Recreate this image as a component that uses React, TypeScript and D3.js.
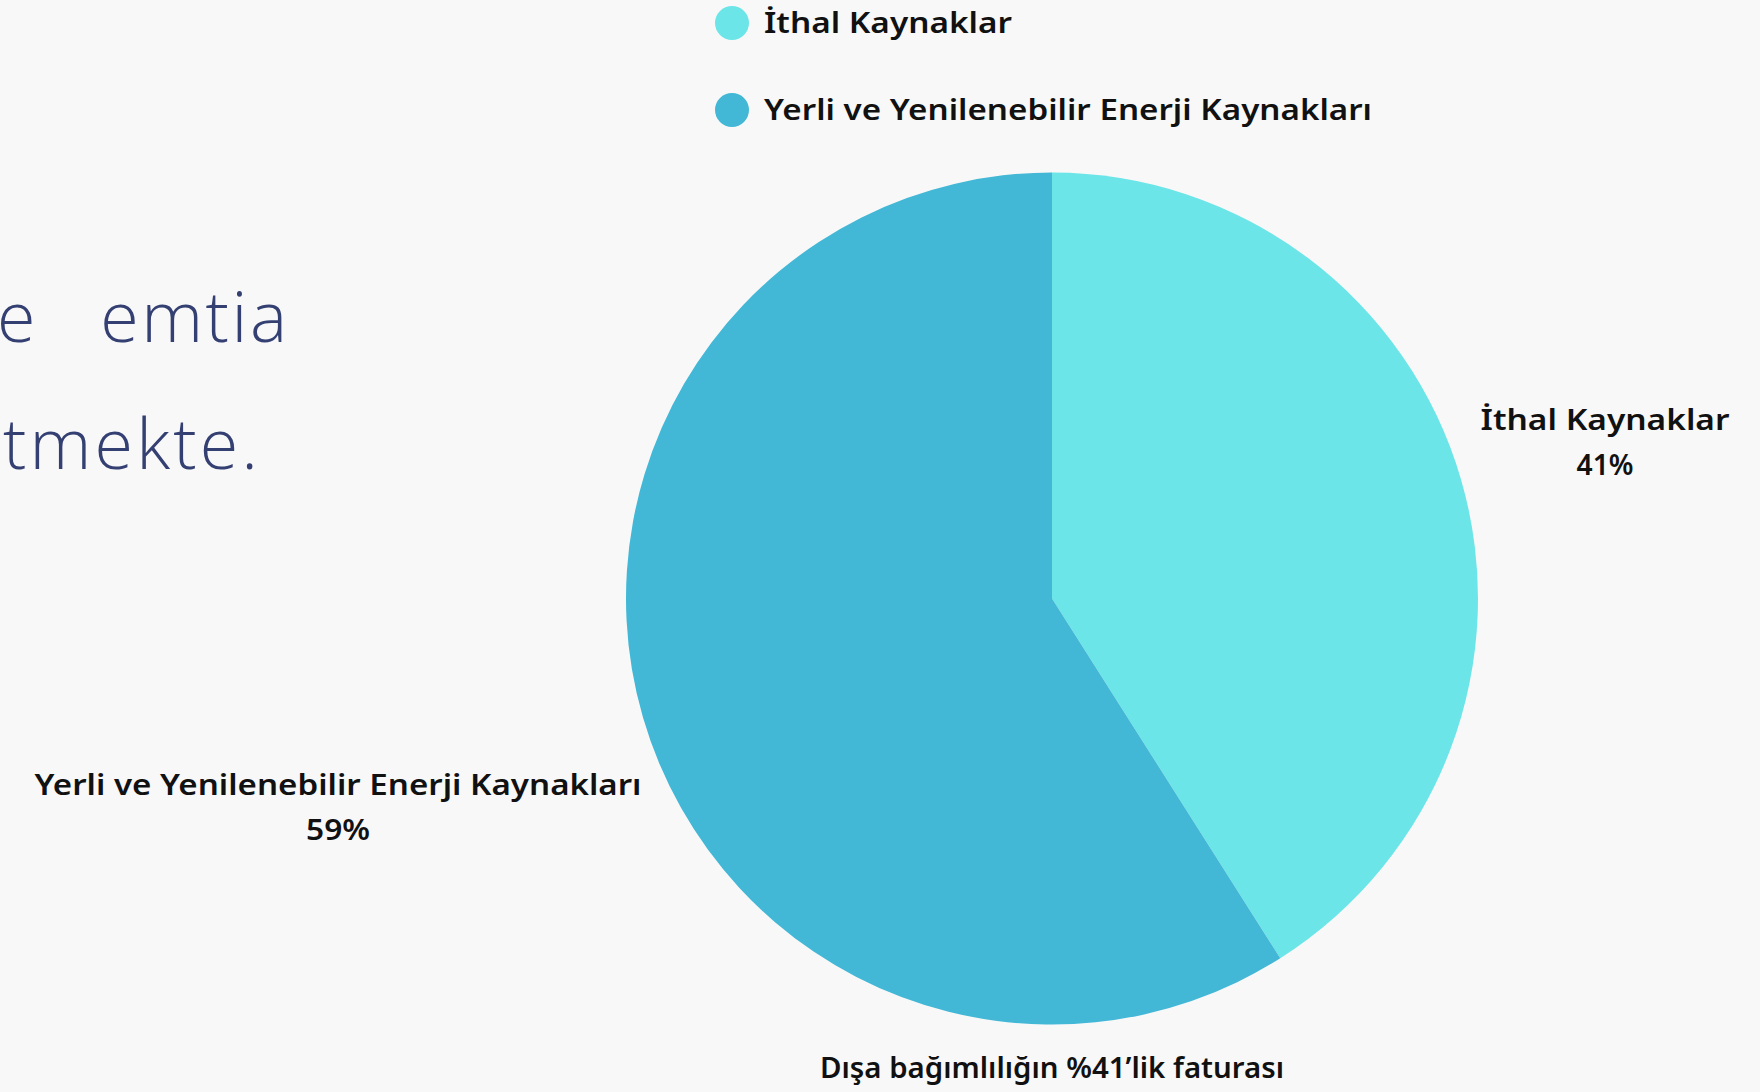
import React from "react";
import * as d3 from "d3";

const categories = ["İthal Kaynaklar", "Yerli ve Yenilenebilir Enerji Kaynakları"];
const values = [41, 59];
const colors = ["#6ce5e8", "#42b7d6"];
const bottomNote = "Dışa bağımlılığın %41’lik faturası";
const sideText = ["e   emtia", "tmekte."];

const W = 1760;
const H = 1092;
const FONT = "'Noto Sans', Lato, sans-serif";

export default function App() {
  const cx = 1052;
  const cy = 598.5;
  const r = 426;
  const pie = d3.pie<number>().sort(null).value((d) => d)(values);
  const arc = d3.arc<d3.PieArcDatum<number>>().innerRadius(0).outerRadius(r);
  const labelPos = [
    { x: 1605, y: 420, w: 249, pw: 57 },
    { x: 338, y: 785, w: 607, pw: 64 },
  ];
  const legendW = [248, 608];
  return (
    <svg
      width={W}
      height={H}
      style={{ position: "absolute", left: 0, top: 0, display: "block" }}
      fontFamily={FONT}
    >
      <rect x={0} y={0} width={W} height={H} fill="#f8f8f8" />
      <g fill="#343f72" fontSize={70} fontWeight={300} fontFamily="'Open Sans', Lato, sans-serif">
        <text x={-3} y={342} xmlSpace="preserve" style={{ whiteSpace: "pre" }} textLength={290} lengthAdjust="spacing">
          {sideText[0]}
        </text>
        <text x={3} y={469} textLength={255} lengthAdjust="spacing">{sideText[1]}</text>
      </g>
      {categories.map((c, i) => (
        <g key={c}>
          <circle cx={732} cy={23 + i * 87} r={17} fill={colors[i]} />
          <text x={764} y={33 + i * 87} fontSize={28} fontWeight={600} fill="#111" textLength={legendW[i]} lengthAdjust="spacingAndGlyphs">
            {c}
          </text>
        </g>
      ))}
      <g transform={`translate(${cx},${cy})`}>
        {pie.map((p, i) => (
          <path key={i} d={arc(p) || ""} fill={colors[i]} />
        ))}
      </g>
      {pie.map((p, i) => (
        <g key={"l" + i} fontSize={28} fontWeight={600} fill="#111" textAnchor="middle">
          <text x={labelPos[i].x} y={labelPos[i].y + 10} textLength={labelPos[i].w} lengthAdjust="spacingAndGlyphs">
            {categories[i]}
          </text>
          <text x={labelPos[i].x} y={labelPos[i].y + 55} textLength={labelPos[i].pw} lengthAdjust="spacingAndGlyphs">
            {`${values[i]}%`}
          </text>
        </g>
      ))}
      <text x={cx} y={1078} fontSize={28} fontWeight={600} fill="#111" textAnchor="middle" textLength={464} lengthAdjust="spacingAndGlyphs">
        {bottomNote}
      </text>
    </svg>
  );
}
